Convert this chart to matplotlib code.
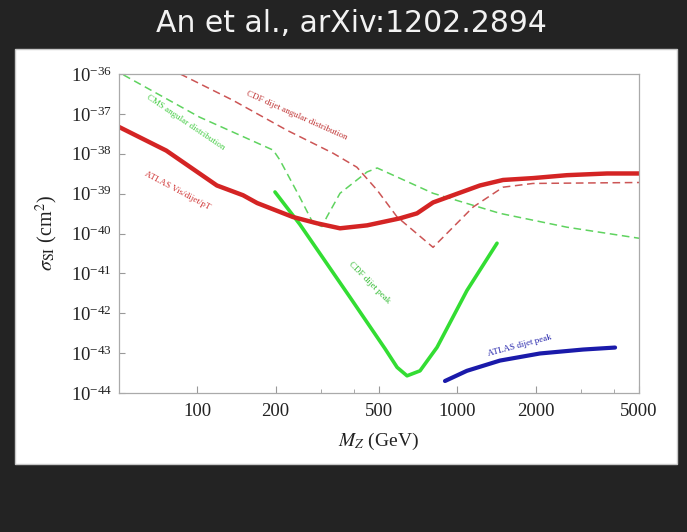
import numpy as np
import matplotlib.pyplot as plt
from matplotlib.patches import Rectangle
from matplotlib.ticker import FixedLocator, NullFormatter, FixedFormatter

plt.rcParams['font.family'] = ['Liberation Serif', 'DejaVu Serif']
plt.rcParams['mathtext.fontset'] = 'stix'

# Z' mass (GeV) vs spin-independent cross section (cm^2)
atlas_ang_m = [50, 76, 119, 150, 170, 233, 289, 354, 450, 602, 700, 807, 1222, 1500, 1955, 2640, 3770, 5000]
atlas_ang_s = [4.7e-38, 1.2e-38, 1.6e-39, 9.1e-40, 5.8e-40, 2.6e-40, 1.8e-40, 1.35e-40, 1.6e-40,
               2.4e-40, 3.2e-40, 6.0e-40, 1.6e-39, 2.2e-39, 2.45e-39, 2.9e-39, 3.2e-39, 3.2e-39]

cdf_ang_m = [86, 137, 221, 333, 411, 492, 587, 807, 881, 1150, 1500, 1955, 5000]
cdf_ang_s = [1.0e-36, 2.2e-37, 3.9e-38, 1.03e-38, 4.6e-39, 1.22e-39, 2.6e-40, 4.5e-41, 8.0e-41,
             4.6e-40, 1.45e-39, 1.8e-39, 1.9e-39]

cms_ang_m = [52, 102, 196, 208, 248, 279, 302, 315, 354, 450, 492, 807, 1459, 2640, 5000]
cms_ang_s = [9.5e-37, 8.3e-38, 1.23e-38, 6.9e-39, 8.1e-40, 1.8e-40, 1.5e-40, 2.6e-40, 1.02e-39,
             3.5e-39, 4.4e-39, 1.02e-39, 3.2e-40, 1.44e-40, 7.6e-41]

cdf_peak_m = [199, 248, 387, 527, 587, 641, 719, 836, 1089, 1422]
cdf_peak_s = [1.1e-39, 1.7e-40, 2.5e-42, 1.3e-43, 4.4e-44, 2.7e-44, 3.6e-44, 1.4e-43, 3.7e-42, 5.7e-41]

atlas_peak_m = [897, 1089, 1459, 2080, 3047, 4045]
atlas_peak_s = [2.0e-44, 3.6e-44, 6.5e-44, 9.8e-44, 1.23e-43, 1.38e-43]

x_major = [100, 200, 500, 1000, 2000, 5000]
x_minor = [300, 400, 3000, 4000]

fig = plt.figure(figsize=(6.87, 5.32), dpi=100, facecolor='#232323')

# white slide panel behind the plot
fig.patches.append(Rectangle((15 / 687, 1 - 464 / 532), 662 / 687, 415 / 532,
                             transform=fig.transFigure, facecolor='white',
                             edgecolor='#c8c8c8', lw=1, zorder=-10))

fig.text(351 / 687, 1 - 23 / 532, 'An et al., arXiv:1202.2894', color='#f2f2f2',
         fontsize=21.5, family='DejaVu Sans', ha='center', va='center')

ax = fig.add_axes([119 / 687, 1 - 393 / 532, 520 / 687, 319 / 532])
ax.set_facecolor('white')

ax.plot(cms_ang_m, cms_ang_s, color='#5fd35f', lw=1.1, dashes=(5, 3))
ax.plot(cdf_ang_m, cdf_ang_s, color='#cc5555', lw=1.1, dashes=(5, 3))
ax.plot(cdf_peak_m, cdf_peak_s, color='#33dd33', lw=2.6, solid_capstyle='round')
ax.plot(atlas_peak_m, atlas_peak_s, color='#1a1aaa', lw=3, solid_capstyle='round')
ax.plot(atlas_ang_m, atlas_ang_s, color='#d42424', lw=3.2)

ax.set_xscale('log')
ax.set_yscale('log')
ax.set_xlim(50, 5000)
ax.set_ylim(1e-44, 1e-36)

ax.xaxis.set_major_locator(FixedLocator(x_major))
ax.xaxis.set_major_formatter(FixedFormatter([str(v) for v in x_major]))
ax.xaxis.set_minor_locator(FixedLocator(x_minor))
ax.xaxis.set_minor_formatter(NullFormatter())
ax.yaxis.set_major_locator(FixedLocator([10.0 ** e for e in range(-44, -35)]))
ax.yaxis.set_minor_locator(FixedLocator([]))

ax.tick_params(axis='both', which='both', direction='in', color='#999999',
               labelcolor='#222222', labelsize=13.5, top=False, right=False)
ax.tick_params(axis='x', which='major', length=5, pad=7)
ax.tick_params(axis='x', which='minor', length=3)
ax.tick_params(axis='y', which='major', length=4, pad=5)
for sp in ax.spines.values():
    sp.set_color('#aaaaaa')
    sp.set_linewidth(0.9)

ax.set_xlabel(r'$M_Z$ (GeV)', fontsize=14, color='#222222', labelpad=8)
ax.set_ylabel(r'$\sigma_{\rm SI}$ (cm$^2$)', fontsize=14.5, color='#222222', labelpad=8)

lab = dict(fontsize=6.5, ha='center', va='center', rotation_mode='anchor')
ax.text(242, 9.3e-38, 'CDF dijet angular distribution', color='#c03535', rotation=-24, **lab)
ax.text(90, 6.2e-38, 'CMS angular distribution', color='#44cc44', rotation=-34, **lab)
ax.text(84, 1.2e-39, 'ATLAS Vis/dijet/pT', color='#d03535', rotation=-28, **lab)
ax.text(461, 5.9e-42, 'CDF dijet peak', color='#33bb33', rotation=-45, **lab)
ax.text(1742, 1.55e-43, 'ATLAS dijet peak', color='#2222aa', rotation=15, **lab)

fig.savefig('out.png', dpi=100, facecolor=fig.get_facecolor())
